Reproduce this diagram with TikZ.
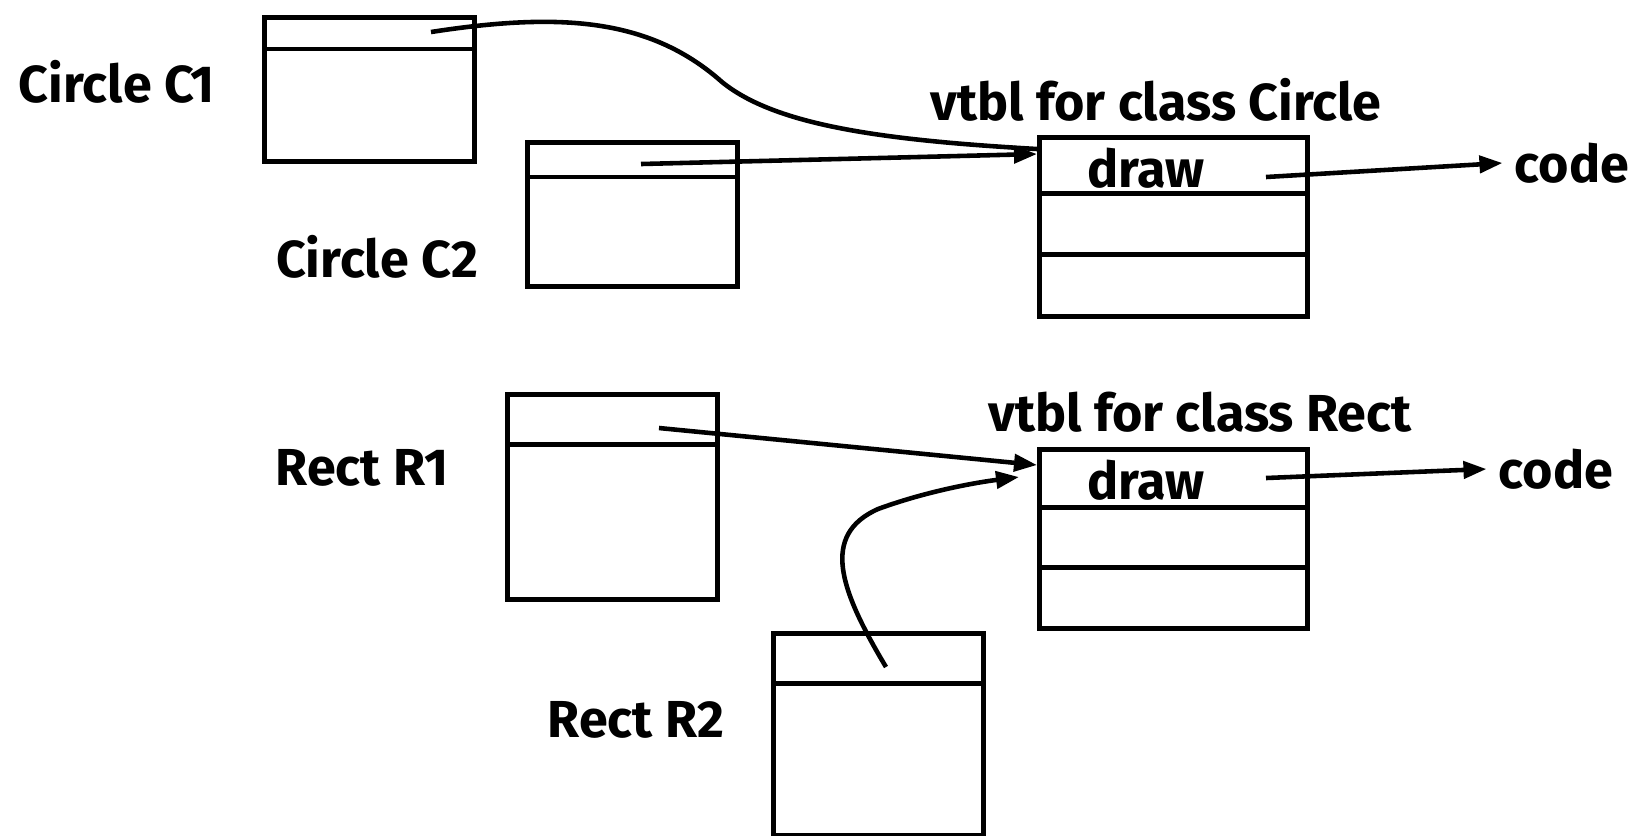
\documentclass[tikz,border=0pt]{standalone}
\usepackage{fontspec}
\setmainfont{Fira Sans}
\usetikzlibrary{arrows.meta}

\begin{document}
\begin{tikzpicture}[x=0.01cm,y=-0.01cm,
  every node/.style={font=\fontsize{14.8}{17}\bfseries\selectfont},
  objbox/.style={draw,line width=1.4pt,minimum width=2.1cm,anchor=north west,inner sep=0pt},
  vtblbox/.style={draw,line width=1.4pt,minimum width=2.68cm,minimum height=1.79cm,anchor=north west,inner sep=0pt},
  divider/.style={line width=1.4pt},
  ptr/.style={line width=1.3pt,-{Triangle[length=2.3mm,width=1.7mm]}}]
  \useasboundingbox (0,0) rectangle (1630,835);

  % Circle objects
  \node[objbox,minimum height=1.44cm] (c1) at (262,15) {};
  \draw[divider] ([yshift=-0.34cm]c1.north west) -- ([yshift=-0.34cm]c1.north east);
  \node (c1lbl) at (117,82) {Circle C1};
  \coordinate (c1ptr) at (431,32);

  \node[objbox,minimum height=1.44cm] (c2) at (525,140) {};
  \draw[divider] ([yshift=-0.37cm]c2.north west) -- ([yshift=-0.37cm]c2.north east);
  \node (c2lbl) at (377,257) {Circle C2};
  \coordinate (c2ptr) at (641,164);

  % vtbl for Circle
  \node (vclbl) at (1156,100) {vtbl for class Circle};
  \node[vtblbox] (vc) at (1037,135) {};
  \draw[divider] ([yshift=-0.58cm]vc.north west) -- ([yshift=-0.58cm]vc.north east);
  \draw[divider] ([yshift=-1.19cm]vc.north west) -- ([yshift=-1.19cm]vc.north east);
  \node (vcdraw) at (1146,168) {draw};
  \coordinate (vcptr) at (1266,177);
  \node (vccode) at (1572,163) {code};

  % Rect objects
  \node[objbox,minimum height=2.05cm] (r1) at (505,392) {};
  \draw[divider] ([yshift=-0.52cm]r1.north west) -- ([yshift=-0.52cm]r1.north east);
  \node (r1lbl) at (362,468) {Rect R1};
  \coordinate (r1ptr) at (659,428);

  \node[objbox,minimum height=2.02cm] (r2) at (771,631) {};
  \draw[divider] ([yshift=-0.52cm]r2.north west) -- ([yshift=-0.52cm]r2.north east);
  \node (r2lbl) at (636,720) {Rect R2};
  \coordinate (r2ptr) at (886,667);

  % vtbl for Rect
  \node (vrlbl) at (1200,412) {vtbl for class Rect};
  \node[vtblbox] (vr) at (1037,447) {};
  \draw[divider] ([yshift=-0.6cm]vr.north west) -- ([yshift=-0.6cm]vr.north east);
  \draw[divider] ([yshift=-1.2cm]vr.north west) -- ([yshift=-1.2cm]vr.north east);
  \node (vrdraw) at (1146,480) {draw};
  \coordinate (vrptr) at (1266,478);
  \node (vrcode) at (1556,469) {code};

  % pointers
  \draw[line width=1.3pt] (c1ptr) .. controls (560,12) and (650,18) .. (722,82)
    .. controls (775,125) and (880,140) .. ([yshift=0.03cm]vc.north west |- 0,152);
  \draw[ptr] (c2ptr) -- ([yshift=-0.19cm]vc.north west);
  \draw[ptr] (vcptr) -- (vccode.west);
  \draw[ptr] (r1ptr) -- ([yshift=-0.18cm]vr.north west);
  \draw[ptr] (r2ptr) .. controls (840,590) and (820,535) .. (878,509)
    .. controls (930,490) and (980,482) .. ([xshift=-0.18cm,yshift=-0.3cm]vr.north west);
  \draw[ptr] (vrptr) -- (vrcode.west);
\end{tikzpicture}
\end{document}
